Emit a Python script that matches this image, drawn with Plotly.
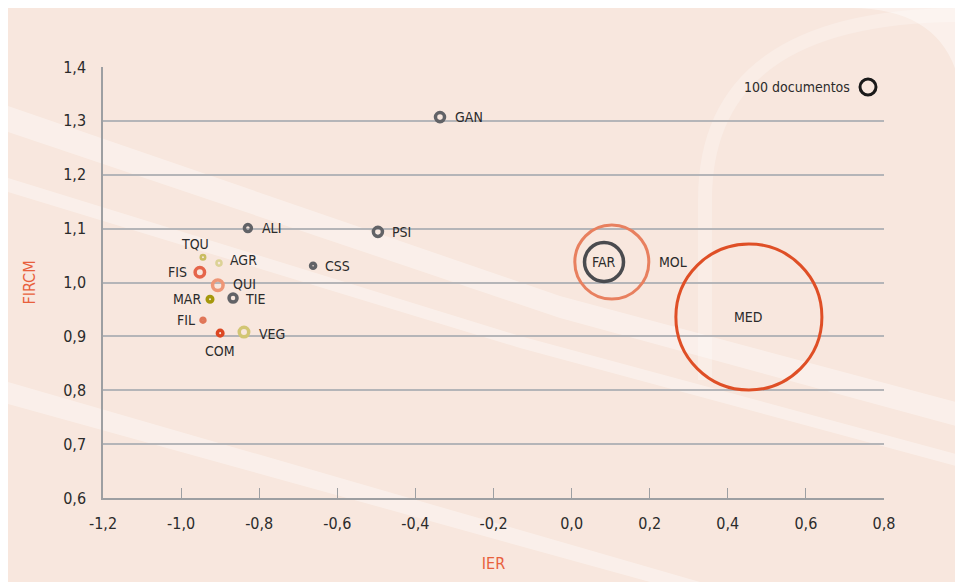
import plotly.graph_objects as go

# ---- data ----
codes = ["GAN", "PSI", "CSS", "ALI", "TQU", "AGR", "FIS", "QUI", "MAR", "TIE",
         "FIL", "COM", "VEG", "MOL", "FAR", "MED"]
ier = [-0.337, -0.496, -0.662, -0.829, -0.944, -0.903, -0.952, -0.906, -0.926, -0.867,
       -0.944, -0.900, -0.839, 0.103, 0.083, 0.454]
fircm = [1.307, 1.094, 1.031, 1.101, 1.047, 1.036, 1.019, 0.995, 0.969, 0.971,
         0.930, 0.906, 0.908, 1.038, 1.038, 0.936]
documentos = [32, 32, 10, 19, 8, 10, 35, 43, 12, 25, 6, 12, 35, 2140, 594, 8330]
key_docs = 100

x_tickvals = [-1.2, -1.0, -0.8, -0.6, -0.4, -0.2, 0.0, 0.2, 0.4, 0.6, 0.8]
x_ticktext = ["-1,2", "-1,0", "-0,8", "-0,6", "-0,4", "-0,2", "0,0", "0,2", "0,4", "0,6", "0,8"]
y_tickvals = [0.6, 0.7, 0.8, 0.9, 1.0, 1.1, 1.2, 1.3, 1.4]
y_ticktext = ["0,6", "0,7", "0,8", "0,9", "1,0", "1,1", "1,2", "1,3", "1,4"]

# ---- styles ----
FONT = "Liberation Sans Narrow, DejaVu Sans Condensed, sans-serif"
GRAY = "#626367"
ring_colors = [GRAY, GRAY, GRAY, GRAY, "#c9bd62", "#dcd296", "#e5654a", "#ee9676",
               "#a5980c", GRAY, "#e07658", "#dc4722", "#d2c673", "#e8805f", "#4a4b4f", "#df4f26"]
ring_widths = [3.5, 3.5, 3.5, 3.5, 2.5, 2.5, 3.5, 3.5, 3.5, 3.5, 3.5, 3.5, 3.5, 3, 3.5, 3]
label_side = ["r", "r", "r", "r", "t", "r", "l", "r", "l", "r", "l", "b", "r", "r", "c", "c"]
label_gap = [7, 6, 6, 7, 0, 5, 4, 6, 2, 4, 2, 3, 7, 7, 0, 0]
label_dy = [0, 0, 0, 0, 0, 3, 0, 1, 0, -1, 0, 0, -2, 0, 0, 0]

SIZEREF = 2 * key_docs / 16 ** 2  # 100 documentos -> 16 px diameter

W, H = 963, 582
OFF = 8  # page body margin
L, T = 103 - OFF, 67 - OFF
PW, PH = 781, 431
R, B = W - L - PW, H - T - PH


def px(x, y):
    """page pixel -> paper coordinates (for decoration only)"""
    x -= OFF
    y -= OFF
    return (x - L) / PW, (T + PH - y) / PH


def path(points):
    s = ""
    for i, (x, y) in enumerate(points):
        a, b = px(x, y)
        s += ("M" if i == 0 else "L") + f"{a:.4f},{b:.4f} "
    return s + "Z"


fig = go.Figure()

fig.add_trace(go.Scatter(
    x=ier, y=fircm, mode="markers",
    marker=dict(size=documentos, sizemode="area", sizeref=SIZEREF, opacity=1,
                color="rgba(0,0,0,0)",
                line=dict(color=ring_colors, width=ring_widths)),
    showlegend=False, text=codes, hoverinfo="x+y+text", cliponaxis=False,
))

# key (legend): 100 documentos
fig.add_trace(go.Scatter(
    x=[None], y=[None], mode="markers", name="",
    marker=dict(size=key_docs, sizemode="area", sizeref=SIZEREF, opacity=1,
                color="rgba(0,0,0,0)", line=dict(color="#1a1a1a", width=3)),
    showlegend=True,
))

annotations = []
for c, xv, yv, d, lw, side, gap, dy in zip(codes, ier, fircm, documentos, ring_widths,
                                           label_side, label_gap, label_dy):
    r = (2 * d / SIZEREF) ** 0.5 / 2 + lw / 2
    a = dict(x=xv, y=yv, text=c, showarrow=False, xref="x", yref="y",
             font=dict(family=FONT, size=14, color="#2b2b2b"), yshift=dy)
    if side == "r":
        a.update(xanchor="left", yanchor="middle", xshift=r + gap)
    elif side == "l":
        a.update(xanchor="right", yanchor="middle", xshift=-(r + gap))
    elif side == "t":
        a.update(xanchor="center", yanchor="bottom", yshift=r + gap, xshift=-8)
    elif side == "b":
        a.update(xanchor="center", yanchor="top", yshift=-(r + gap))
    else:
        a.update(xanchor="center", yanchor="middle")
    annotations.append(a)

ka = px(852, 87)
annotations.append(dict(xref="paper", yref="paper", x=ka[0], y=ka[1], xanchor="right",
                        yanchor="middle", text="100 documentos", showarrow=False,
                        font=dict(family=FONT, size=14, color="#2b2b2b")))

shapes = []
# decorative light bands
bands = [
    [(8, 106), (8, 132), (560, 318), (963, 428), (963, 404), (560, 296)],
    [(8, 178), (8, 192), (520, 348), (963, 468), (963, 456), (520, 336)],
    [(8, 382), (8, 404), (650, 582), (700, 582)],
]
for b in bands:
    shapes.append(dict(type="path", xref="paper", yref="paper", layer="below",
                       path=path(b), fillcolor="rgba(255,255,255,0.36)", line=dict(width=0)))
# faint arch at the top right
p0 = px(705, 380); p1 = px(705, 200); p2 = px(705, 15); p3 = px(963, 15)
shapes.append(dict(type="path", xref="paper", yref="paper", layer="below",
                   path=f"M{p0[0]:.4f},{p0[1]:.4f} L{p1[0]:.4f},{p1[1]:.4f} "
                        f"Q{p2[0]:.4f},{p2[1]:.4f} {p3[0]:.4f},{p3[1]:.4f}",
                   line=dict(color="rgba(255,255,255,0.25)", width=14)))
q0 = px(850, 8); q1 = px(963, 8); q2 = px(963, 120)
shapes.append(dict(type="path", xref="paper", yref="paper", layer="below",
                   path=f"M{q0[0]:.4f},{q0[1]:.4f} L{q1[0]:.4f},{q1[1]:.4f} "
                        f"L{q2[0]:.4f},{q2[1]:.4f} Q{q1[0]:.4f},{q0[1]:.4f} {q0[0]:.4f},{q0[1]:.4f} Z",
                   fillcolor="rgba(255,255,255,0.4)", line=dict(width=0)))

lg = px(848, 87)
fig.update_layout(
    width=W, height=H,
    margin=dict(l=L, r=R, t=T, b=B),
    paper_bgcolor="#f8e7de", plot_bgcolor="rgba(0,0,0,0)",
    font=dict(family=FONT, size=15, color="#2b2b2b"),
    shapes=shapes,
    annotations=annotations,
    showlegend=True,
    legend=dict(x=lg[0], y=lg[1], xanchor="left", yanchor="middle",
                bgcolor="rgba(0,0,0,0)", itemwidth=30, font=dict(size=1)),
    xaxis=dict(range=[-1.2, 0.8], tickvals=x_tickvals, ticktext=x_ticktext,
               showgrid=False, zeroline=False, showline=True, linecolor="#9d9fa2",
               linewidth=1.5, ticks="inside", ticklen=10, tickcolor="#9d9fa2", tickwidth=1,
               ticklabelstandoff=10, tickfont=dict(size=16),
               title=dict(text="IER", font=dict(color="#e8603c", size=16), standoff=26)),
    yaxis=dict(range=[0.6, 1.4], tickvals=y_tickvals, ticktext=y_ticktext,
               showgrid=True, gridcolor="#b5b5b8", gridwidth=1.5, zeroline=False,
               showline=True, linecolor="#9d9fa2", linewidth=1.5, ticks="",
               ticklabelstandoff=12, tickfont=dict(size=16),
               title=dict(text="FIRCM", font=dict(color="#e8603c", size=16), standoff=24)),
)

fig.write_html("out.html")
